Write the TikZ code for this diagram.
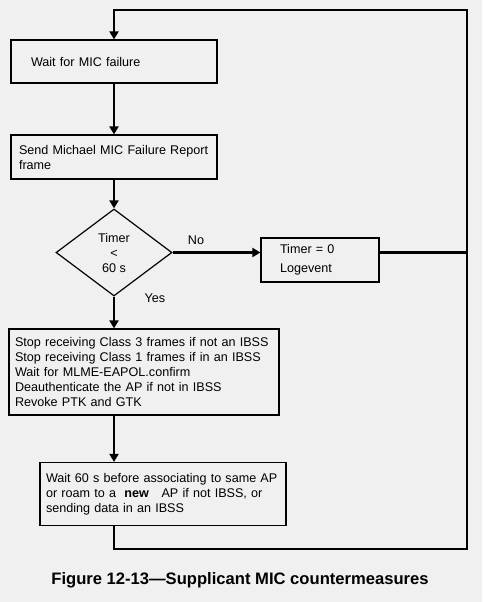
\documentclass[tikz,border=0pt]{standalone}
\usepackage{fontspec}
\setmainfont{Liberation Sans}
\usetikzlibrary{arrows.meta, shapes.geometric}
\definecolor{bggray}{HTML}{F0F0F0}

\begin{document}
\begin{tikzpicture}[x=1pt, y=-1pt,
    myarrow/.style={-{Triangle[length=8pt, width=9pt]}, line width=2.2pt},
    myline/.style={line width=2.2pt},
    procbox/.style={draw, line width=1.2pt, fill=bggray, rectangle, align=left,
        font=\fontsize{12.6}{15}\selectfont, inner ysep=0pt},
    decision/.style={draw, line width=1.2pt, fill=bggray, diamond, aspect=1.33,
        inner sep=0pt, minimum width=116pt, minimum height=87pt, align=center,
        font=\fontsize{12.6}{15}\selectfont},
    lbl/.style={font=\fontsize{12.6}{15}\selectfont},
    heading/.style={font=\fontsize{16.6}{20}\selectfont\bfseries},
]

% ===================== CANVAS =====================
\fill[bggray] (0,0) rectangle (482,602);
\useasboundingbox (0,0) rectangle (482,602);

% ===================== STEPS =====================
\node[procbox, minimum height=43pt, text width=166pt, inner xsep=20pt] (wait) at (114,61.5)
    {Wait for MIC failure};

\node[procbox, minimum height=44pt, text width=190pt, inner xsep=8pt] (report) at (114,157)
    {Send Michael MIC Failure Report\\frame};

\node[decision] (timer) at (114,252.5) {Timer\\<\\60 s};

\node[procbox, minimum height=44pt, text width=80pt, inner xsep=19pt] (logev) at (320,260)
    {Timer = 0\\[4pt]Logevent};

\node[procbox, minimum height=86pt, text width=258pt, inner xsep=6pt] (stop) at (144,372)
    {Stop receiving Class 3 frames if not an IBSS\\
     Stop receiving Class 1 frames if in an IBSS\\
     Wait for MLME-EAPOL.confirm\\
     Deauthenticate the AP if not in IBSS\\
     Revoke PTK and GTK};

\node[procbox, minimum height=63pt, text width=234pt, inner xsep=6pt] (holdoff) at (163,494)
    {Wait 60 s before associating to same AP\\
     or roam to a\ \ \textbf{new}\ \ \ AP if not IBSS, or\\
     sending data in an IBSS};

% branch labels
\node[lbl] (no) at (196,240) {No};
\node[lbl] (yes) at (155,298) {Yes};

% return path corners
\coordinate (tr) at (467,10);
\coordinate (br) at (467,549);

% ===================== CONNECTORS =====================
\draw[myarrow] (wait.south) -- (report.north);
\draw[myarrow] (report.south) -- (timer.north);
\draw[myarrow] (timer.east) -- (timer.east -| logev.west);
\draw[myline] (timer.east -| logev.east) -- (timer.east -| tr);
\draw[myarrow] (timer.south) -- (timer.south |- stop.north);
\draw[myarrow] (stop.south -| wait.south) -- (wait.south |- holdoff.north);

% loop back to the start
\draw[myarrow] (wait.south |- holdoff.south) |- (br) -- (tr) -| (wait.north);

% ===================== CAPTION =====================
\node[heading] (caption) at (240,580)
    {Figure 12-13\textemdash Supplicant MIC countermeasures};

\end{tikzpicture}
\end{document}
